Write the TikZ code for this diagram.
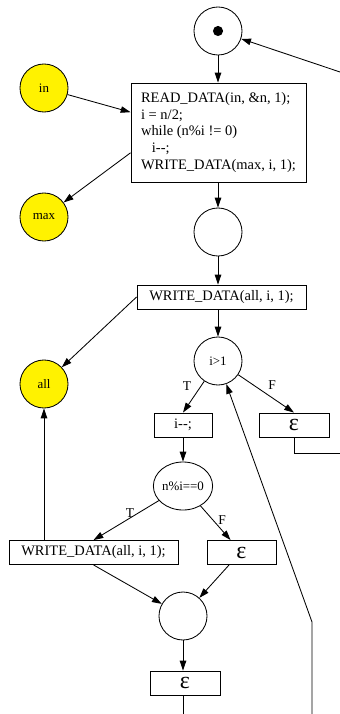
\documentclass[tikz,border=0pt]{standalone}
\usepackage{fontspec}
\setmainfont{Liberation Serif}
\usetikzlibrary{arrows.meta,shapes.geometric}
\begin{document}
\begin{tikzpicture}[x=0.025cm,y=-0.025cm,line width=0.6pt,
    >={Triangle[length=7pt,width=4.6pt]},
    place/.style={draw,circle,minimum size=1.2cm,inner sep=0pt,font=\fontsize{9.2}{11}\selectfont},
    data/.style={place,fill=yellow},
    trans/.style={draw,rectangle,minimum height=0.6cm,inner sep=0pt,font=\fontsize{10.3}{11.9}\selectfont},
    eps/.style={trans,minimum width=1.75cm,font=\fontsize{17}{17}\selectfont},
    lbl/.style={font=\fontsize{9.6}{11}\selectfont}]
  \useasboundingbox (0,0) rectangle (340,714);

  % places and transitions
  \node[place] (start) at (218,31) {};
  \fill (start) circle (3.6pt);
  \node[trans,minimum width=4.375cm,minimum height=2.475cm,align=left] (prog) at (218.5,132.5)
    {READ\_DATA(in, \&n, 1);\\ i = n/2;\\ while (n\%i != 0)\\ \hspace*{0.75em}i-{}-;\\ WRITE\_DATA(max, i, 1);};
  \node[data] (in) at (44,88) {in};
  \node[data] (max) at (44,217) {max};
  \node[place] (mid) at (218,232) {};
  \node[trans,minimum width=4.225cm] (wall) at (221.5,297) {WRITE\_DATA(all, i, 1);};
  \node[data] (all) at (44,384) {all};
  \node[place] (test) at (218,361) {i>1};
  \node[trans,minimum width=1.45cm] (dec) at (183,425) {i-{}-;};
  \node[eps] (epsA) at (294,425) {ε};
  \node[draw,ellipse,minimum width=1.4cm,minimum height=1.2cm,inner sep=0pt,
    font=\fontsize{9.2}{11}\selectfont] (mod) at (183,486) {n\%i==0};
  \node[trans,minimum width=4.225cm] (wall2) at (93.5,552.5) {WRITE\_DATA(all, i, 1);};
  \node[eps,minimum width=1.725cm] (epsB) at (241.5,552.5) {ε};
  \node[place] (join) at (183,616) {};
  \node[eps] (epsC) at (185,683) {ε};

  % branch labels
  \node[lbl] (t1) at (187,386) {T};
  \node[lbl] (f1) at (272,385) {F};
  \node[lbl] (t2) at (130,513) {T};
  \node[lbl] (f2) at (222,520) {F};

  % loose ends
  \coordinate (out) at (183,714);
  \coordinate (exit) at (340,453);
  \coordinate (back) at (312,714);
  \coordinate (bend) at (312,622);
  \coordinate (loop) at (340,72);

  % arcs
  \draw[->] (start) -- (start |- prog.north);
  \draw[->] (in) -- (prog.167);
  \draw[->] (prog.193) -- (max);
  \draw[->] (prog.south -| mid) -- (mid);
  \draw[->] (mid) -- (mid |- wall.north);
  \draw[->] (wall.west) -- (all);
  \draw[->] (wall.south -| test) -- (test);
  \draw[->] (test) -- (dec.north);
  \draw[->] (test) -- (epsA.north);
  \draw[->] (dec) -- (mod);
  \draw[->] (mod) -- (wall2.north);
  \draw[->] (mod) -- (epsB);
  \draw[->] (wall2.north -| all) -- (all);
  \draw[->] (wall2.south) -- (join);
  \draw[->] (epsB.-135) -- (join);
  \draw[->] (join) -- (join |- epsC.north);
  \draw (epsC.south -| join) -- (out);
  \draw (epsA.south) |- (exit);
  \draw[->] (back) -- (bend) -- (test);
  \draw[->] (loop) -- (start);
\end{tikzpicture}
\end{document}
